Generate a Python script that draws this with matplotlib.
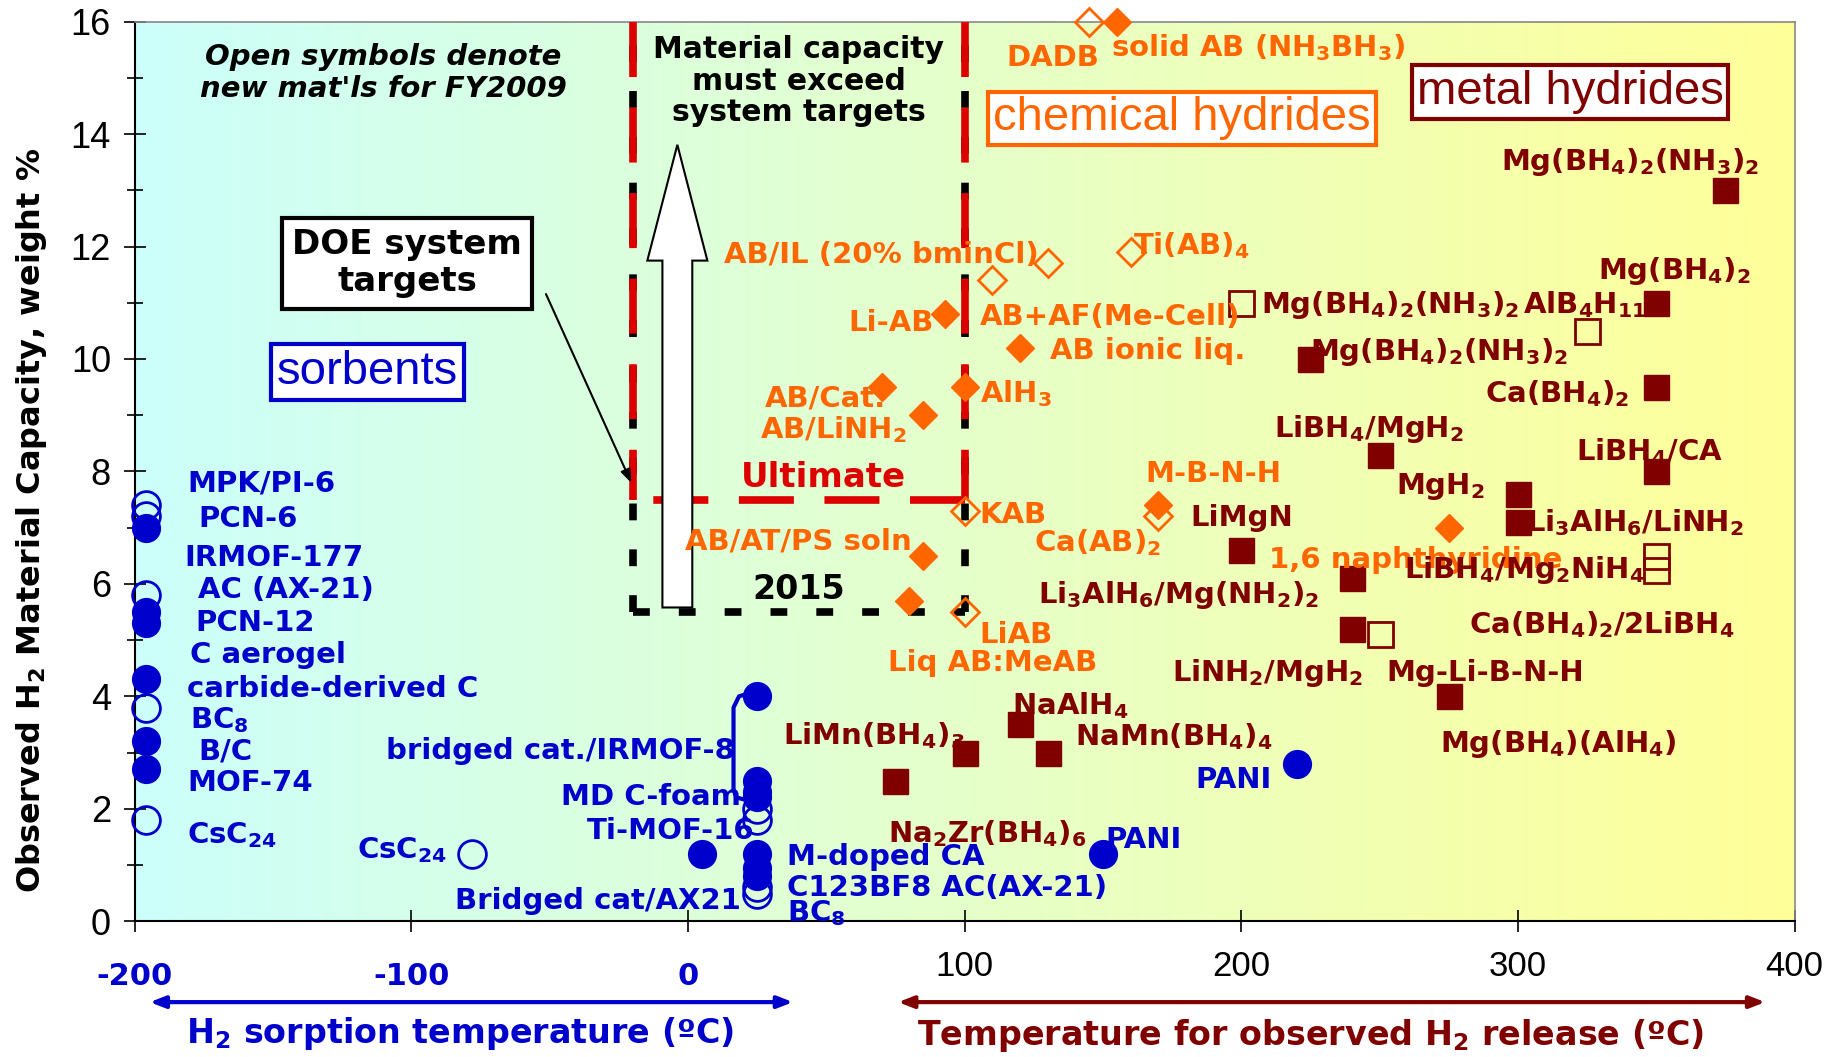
import matplotlib
matplotlib.use('Agg')
import matplotlib.pyplot as plt
import numpy as np
from matplotlib.colors import LinearSegmentedColormap
from matplotlib.patches import FancyArrow

plt.rcParams['font.family'] = ['Liberation Sans', 'DejaVu Sans']
plt.rcParams['mathtext.fontset'] = 'custom'
plt.rcParams['mathtext.rm'] = 'DejaVu Sans:bold'
plt.rcParams['mathtext.it'] = 'DejaVu Sans:bold'
plt.rcParams['mathtext.bf'] = 'DejaVu Sans:bold'

BOLD = 'DejaVu Sans'   # wide bold face, closer to the stretched Arial of the original
BLUE = '#0000cc'
ORANGE = '#ff6600'
DRED = '#800000'
RED = '#dd0000'

# sorbents (temperature of sorption, wt%)
sorb_fill_x = [-196, -196, -196, -196, -196, -196, 25, 25, 25, 25, 5, 25, 25, 25, 150, 220]
sorb_fill_y = [7.0, 5.5, 5.3, 4.3, 3.2, 2.7, 4.0, 2.5, 2.3, 2.2, 1.2, 1.2, 0.95, 0.8, 1.2, 2.8]
sorb_open_x = [-196, -196, -196, -196, -196, -78, 25, 25, 25, 25]
sorb_open_y = [7.4, 7.2, 5.8, 3.8, 1.8, 1.2, 2.0, 1.8, 0.6, 0.48]

# chemical hydrides
chem_fill_x = [155, 93, 120, 70, 100, 85, 170, 85, 80, 275]
chem_fill_y = [16.0, 10.8, 10.2, 9.5, 9.5, 9.0, 7.4, 6.5, 5.7, 7.0]
chem_open_x = [145, 160, 130, 110, 100, 170, 100]
chem_open_y = [16.0, 11.9, 11.7, 11.4, 7.3, 7.2, 5.5]

# metal hydrides
metal_fill_x = [375, 350, 225, 350, 250, 300, 300, 350, 200, 240, 240, 275, 75, 100, 120, 130]
metal_fill_y = [13.0, 11.0, 10.0, 9.5, 8.3, 7.6, 7.1, 8.0, 6.6, 6.1, 5.2, 4.0, 2.5, 3.0, 3.5, 3.0]
metal_open_x = [200, 325, 350, 350, 250]
metal_open_y = [11.0, 10.5, 6.5, 6.25, 5.1]

# DOE system targets
target_temp = [-20, 100]
target_2015 = 5.5
target_ult = 7.5

xticks = [-200, -100, 0, 100, 200, 300, 400]

sorb_labels = [
    ("MPK/PI-6", -181, 7.83, 'left'),
    ("PCN-6", -177, 7.21, 'left'),
    ("IRMOF-177", -182, 6.52, 'left'),
    ("AC (AX-21)", -177, 5.94, 'left'),
    ("PCN-12", -178, 5.36, 'left'),
    ("C aerogel", -180, 4.78, 'left'),
    ("carbide-derived C", -181, 4.18, 'left'),
    ("BC$_8$", -180, 3.64, 'left'),
    ("B/C", -177, 3.08, 'left'),
    ("MOF-74", -181, 2.51, 'left'),
    ("CsC$_{24}$", -181, 1.6, 'left'),
    ("CsC$_{24}$", -87, 1.33, 'right'),
    ("bridged cat./IRMOF-8", 17, 3.08, 'right'),
    ("MD C-foam", 19, 2.26, 'right'),
    ("Ti-MOF-16", 24, 1.66, 'right'),
    ("Bridged cat/AX21", 19, 0.42, 'right'),
    ("M-doped CA", 36, 1.2, 'left'),
    ("C123BF8 AC(AX-21)", 36, 0.64, 'left'),
    ("BC$_8$", 36, 0.2, 'left'),
    ("PANI", 151, 1.5, 'left'),
    ("PANI", 211, 2.56, 'right'),
]

chem_labels = [
    ("DADB", 115, 15.4, 'left'),
    ("solid AB (NH$_3$BH$_3$)", 153, 15.6, 'left'),
    ("AB/IL (20% bminCl)", 13, 11.9, 'left'),
    ("Ti(AB)$_4$", 161, 12.07, 'left'),
    ("Li-AB", 89, 10.7, 'right'),
    ("AB+AF(Me-Cell)", 105.5, 10.8, 'left'),
    ("AB ionic liq.", 131, 10.2, 'left'),
    ("AB/Cat.", 28, 9.35, 'left'),
    ("AB/LiNH$_2$", 26, 8.8, 'left'),
    ("AlH$_3$", 105.5, 9.45, 'left'),
    ("M-B-N-H", 165.5, 8.0, 'left'),
    ("KAB", 105.5, 7.27, 'left'),
    ("Ca(AB)$_2$", 125, 6.8, 'left'),
    ("AB/AT/PS soln", -1, 6.8, 'left'),
    ("LiAB", 105.5, 5.15, 'left'),
    ("Liq AB:MeAB", 72.5, 4.65, 'left'),
    ("1,6 naphthyridine", 210, 6.48, 'left'),
]

metal_labels = [
    ("Mg(BH$_4$)$_2$(NH$_3$)$_2$", 294, 13.57),
    ("Mg(BH$_4$)$_2$", 329, 11.64),
    ("Mg(BH$_4$)$_2$(NH$_3$)$_2$", 207, 11.03),
    ("AlB$_4$H$_{11}$", 302, 11.03),
    ("Mg(BH$_4$)$_2$(NH$_3$)$_2$", 225, 10.2),
    ("Ca(BH$_4$)$_2$", 288, 9.45),
    ("LiBH$_4$/MgH$_2$", 212, 8.83),
    ("LiBH$_4$/CA", 321, 8.42),
    ("MgH$_2$", 256, 7.8),
    ("LiMgN", 181.5, 7.23),
    ("Li$_3$AlH$_6$/LiNH$_2$", 303, 7.15),
    ("Li$_3$AlH$_6$/Mg(NH$_2$)$_2$", 126.6, 5.88),
    ("LiBH$_4$/Mg$_2$NiH$_4$", 259, 6.32),
    ("Ca(BH$_4$)$_2$/2LiBH$_4$", 282.5, 5.34),
    ("LiNH$_2$/MgH$_2$", 175, 4.49),
    ("Mg-Li-B-N-H", 252.5, 4.47),
    ("Mg(BH$_4$)(AlH$_4$)", 272, 3.22),
    ("NaAlH$_4$", 117, 3.9),
    ("NaMn(BH$_4$)$_4$", 140, 3.35),
    ("LiMn(BH$_4$)$_3$", 34.5, 3.37),
    ("Na$_2$Zr(BH$_4$)$_6$", 72.5, 1.62),
]

fig = plt.figure(figsize=(18.33, 10.57), dpi=100)
ax = fig.add_axes([0.0734, 0.1285, 0.9056, 0.851])
ax.set_xlim(-200, 400)
ax.set_ylim(0, 16)

# background gradient cyan -> yellow
bg = LinearSegmentedColormap.from_list('bg', ['#ccfffb', '#ffff99'])
ax.imshow(np.linspace(0, 1, 256)[None, :], extent=[-200, 400, 0, 16],
          aspect='auto', cmap=bg, zorder=0)

# target lines: black (2015) underneath, red (ultimate) on top
lo, hi = target_temp
for xv in target_temp:
    ax.plot([xv, xv], [target_2015, 16], color='black', lw=5.5,
            dashes=(2.2, 3.8), zorder=2)
ax.plot([lo, hi], [target_2015, target_2015], color='black', lw=5.5,
        dashes=(2.2, 3.8), zorder=2)
for xv in target_temp:
    ax.plot([xv, xv], [16, target_ult], color=RED, lw=5.5,
            dashes=(7.2, 4.0), zorder=3)
ax.plot([hi, lo], [target_ult, target_ult], color=RED, lw=5.5,
        dashes=(7.2, 4.0), zorder=3)

ax.text(49, target_ult + 0.4, "Ultimate", color=RED, fontsize=24.5,
        family=BOLD, fontweight='bold', ha='center', va='center', zorder=6)
ax.text(40, target_2015 + 0.4, "2015", color='black', fontsize=24,
        family=BOLD, fontweight='bold', ha='center', va='center', zorder=6)

# big white arrow
arr = FancyArrow(-3.8, target_2015 + 0.08, 0, 13.81 - target_2015 - 0.08,
                 width=10.8, head_width=21.7, head_length=2.06,
                 length_includes_head=True, fc='white', ec='black', lw=1.5,
                 zorder=4)
ax.add_patch(arr)

ax.text(40, 14.94, "Material capacity\nmust exceed\nsystem targets",
        fontsize=21.5, family=BOLD, fontweight='bold', ha='center',
        va='center', linespacing=1.1, zorder=6)
ax.text(-110, 15.09, "Open symbols denote\nnew mat'ls for FY2009",
        fontsize=21, family=BOLD, fontweight='bold', style='italic',
        ha='center', va='center', linespacing=1.2, zorder=6)

ax.text(-101.5, 11.7, "DOE system\ntargets", fontsize=24.5, family=BOLD,
        fontweight='bold', ha='center', va='center', linespacing=1.15,
        zorder=6,
        bbox=dict(boxstyle='square,pad=0.3', fc='white', ec='black', lw=3))
ax.annotate("", xy=(lo, target_ult + 0.25), xytext=(-51.7, 11.2),
            arrowprops=dict(arrowstyle='-|>,head_length=0.8,head_width=0.3',
                            color='black', lw=1.5), zorder=6)

ax.text(-115.9, 9.77, "sorbents", fontsize=34, color=BLUE, ha='center',
        va='center', zorder=6,
        bbox=dict(boxstyle='square,pad=0.12', fc='white', ec=BLUE, lw=3))
ax.text(178.6, 14.28, "chemical hydrides", fontsize=34, color=ORANGE,
        ha='center', va='center', zorder=6,
        bbox=dict(boxstyle='square,pad=0.1', fc='white', ec=ORANGE, lw=3))
ax.text(318.9, 14.75, "metal hydrides", fontsize=34, color=DRED,
        ha='center', va='center', zorder=6,
        bbox=dict(boxstyle='square,pad=0.1', fc='white', ec=DRED, lw=3))

# bracket for the bridged cat./IRMOF-8 pair
b_top = sorb_fill_y[6]
b_bot = sorb_fill_y[9]
ax.plot([22, 18.5, 16.5, 16.5, 17.5, 20],
        [b_top + 0.05, b_top, b_top - 0.2, b_bot + 0.15, b_bot, b_bot - 0.03],
        color=BLUE, lw=3, zorder=4, solid_capstyle='round')

# markers
ax.plot(sorb_fill_x, sorb_fill_y, 'o', ms=20, color=BLUE, mec=BLUE,
        ls='none', zorder=5, clip_on=False)
ax.plot(sorb_open_x, sorb_open_y, 'o', ms=20, mfc='none', mec=BLUE, mew=2,
        ls='none', zorder=5, clip_on=False)
ax.plot(chem_fill_x, chem_fill_y, 'D', ms=14.5, color=ORANGE,
        ls='none', zorder=5, clip_on=False)
ax.plot(chem_open_x, chem_open_y, 'D', ms=14.5, mfc='none', mec=ORANGE,
        mew=2, ls='none', zorder=5, clip_on=False)
ax.plot(metal_fill_x, metal_fill_y, 's', ms=18, color=DRED,
        ls='none', zorder=5, clip_on=False)
ax.plot(metal_open_x, metal_open_y, 's', ms=18, mfc='none', mec=DRED,
        mew=2, ls='none', zorder=5, clip_on=False)

# point labels
for txt, x, y, ha in sorb_labels:
    ax.text(x, y, txt, color=BLUE, fontsize=21, family=BOLD,
            fontweight='bold', ha=ha, va='center_baseline', zorder=7)
for txt, x, y, ha in chem_labels:
    ax.text(x, y, txt, color=ORANGE, fontsize=21, family=BOLD,
            fontweight='bold', ha=ha, va='center_baseline', zorder=7)
for txt, x, y in metal_labels:
    ax.text(x, y, txt, color=DRED, fontsize=21, family=BOLD,
            fontweight='bold', ha='left', va='center_baseline', zorder=8)

# axes styling
for s in ['top', 'right']:
    ax.spines[s].set_color('#888888')
    ax.spines[s].set_linewidth(1.2)
for s in ['left', 'bottom']:
    ax.spines[s].set_color('black')
    ax.spines[s].set_linewidth(1.5)

ax.set_yticks(np.arange(0, 17, 2))
ax.set_yticks(np.arange(1, 16, 2), minor=True)
ax.tick_params(axis='y', which='major', direction='inout', length=16,
               width=1.2, labelsize=26, pad=9)
ax.tick_params(axis='y', which='minor', direction='inout', length=12,
               width=1.2)
ax.set_xticks(xticks)
ax.set_xticklabels([])
ax.tick_params(axis='x', direction='inout', length=16, width=1.2)

xtr = ax.get_xaxis_transform()
for t in xticks:
    if t <= 0:
        ax.text(t, -0.061, str(t), transform=xtr, color=BLUE, fontsize=22,
                family=BOLD, fontweight='bold', ha='center', va='center')
    else:
        ax.text(t, -0.05, str(t), transform=xtr, color='black', fontsize=25,
                ha='center', va='center')

ax.annotate("", xy=(-194.5, -0.09), xytext=(38, -0.09), xycoords=xtr,
            textcoords=xtr, annotation_clip=False,
            arrowprops=dict(arrowstyle='<|-|>,head_length=0.9,head_width=0.35',
                            color=BLUE, lw=3, shrinkA=0, shrinkB=0))
ax.annotate("", xy=(76, -0.09), xytext=(389.4, -0.09), xycoords=xtr,
            textcoords=xtr, annotation_clip=False,
            arrowprops=dict(arrowstyle='<|-|>,head_length=0.9,head_width=0.35',
                            color=DRED, lw=3, shrinkA=0, shrinkB=0))
ax.text(-82.3, -0.125, "H$_2$ sorption temperature (\u00baC)", transform=xtr,
        color=BLUE, fontsize=24, family=BOLD, fontweight='bold',
        ha='center', va='center')
ax.text(225, -0.127, "Temperature for observed H$_2$ release (\u00baC)",
        transform=xtr, color=DRED, fontsize=24, family=BOLD,
        fontweight='bold', ha='center', va='center')

ax.text(-0.062, 0.445, "Observed H$_2$ Material Capacity, weight %",
        transform=ax.transAxes, rotation=90, fontsize=23, family=BOLD,
        fontweight='bold', ha='center', va='center')

fig.savefig('out.png', dpi=100)
